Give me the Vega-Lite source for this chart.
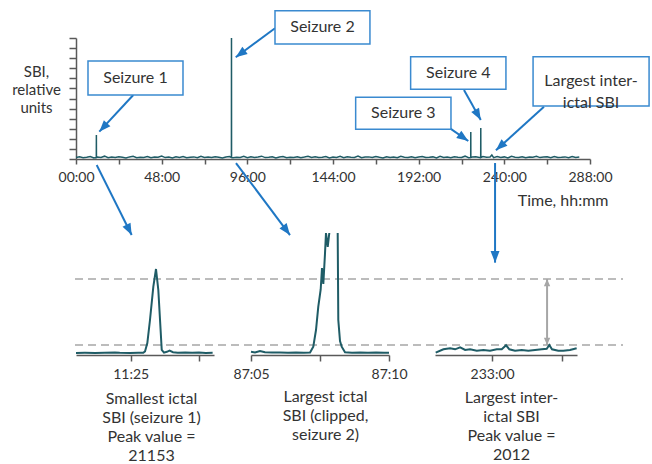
{
  "$schema": "https://vega.github.io/schema/vega-lite/v6.json",
  "width": 652,
  "height": 464,
  "padding": 0,
  "autosize": {"type": "none"},
  "background": "white",
  "config": {
    "view": {"stroke": null},
    "font": "Lato",
    "axis": {"grid": false, "domainColor": "#595959", "domainWidth": 1.5, "tickColor": "#595959", "tickWidth": 1.5, "labelColor": "#333333", "labelFont": "Lato", "labelFontSize": 14, "titleFont": "Lato", "titleFontSize": 16, "titleFontWeight": "normal", "titleColor": "#333333", "labelFlush": false, "labelOverlap": false},
    "text": {"font": "Lato", "fontSize": 16, "fill": "#333333"}
  },
  "datasets": {
    "callout_arrows": [
      {"x1": 32.1, "y1": 6.35, "x2": 13.06, "y2": 2.71},
      {"x1": 111.5, "y1": 12.96, "x2": 89.5, "y2": 10.09},
      {"x1": 209.6, "y1": 3.04, "x2": 219.8, "y2": 1.79},
      {"x1": 217.4, "y1": 6.84, "x2": 226.8, "y2": 3.87},
      {"x1": 262.2, "y1": 5.19, "x2": 235.3, "y2": 0.86},
      {"x1": 11.6, "y1": -0.6, "x2": 31.2, "y2": -7.54},
      {"x1": 89.65, "y1": -0.4, "x2": 119.9, "y2": -7.54},
      {"x1": 234.8, "y1": -0.4, "x2": 234.8, "y2": -10.28}
    ],
    "boxes": [
      {"label": "Seizure 1", "x1": 6.72, "x2": 59.95, "y1": 6.35, "y2": 9.72},
      {"label": "Seizure 2", "x1": 111.5, "x2": 164.7, "y1": 11.4, "y2": 14.71},
      {"label": "Seizure 3", "x1": 156.7, "x2": 210.1, "y1": 2.95, "y2": 6.12},
      {"label": "Seizure 4", "x1": 187.5, "x2": 240.9, "y1": 6.91, "y2": 10.15},
      {"label": "Largest inter-\nictal SBI", "x1": 256.1, "x2": 321.1, "y1": 5.26, "y2": 10.15}
    ],
    "gap": [{"lo": 2012, "hi": 18633}]
  },
  "layer": [
    {
      "data": {"values": [{"level": 2012}, {"level": 18633}]},
      "mark": {"type": "rule", "stroke": "#a6a6a6", "strokeWidth": 1.5, "strokeDash": [8, 5]},
      "encoding": {
        "x": {"datum": -0.56, "type": "quantitative", "scale": {"domain": [0, 288], "range": [76, 590], "nice": false, "zero": false}, "axis": null},
        "x2": {"datum": 306.5},
        "y": {"field": "level", "type": "quantitative", "scale": {"domain": [-504, 30216], "range": [355, 233], "nice": false, "zero": false}, "axis": null}
      }
    },
    {
      "data": {"name": "gap"},
      "mark": {"type": "rule", "stroke": "#a6a6a6", "strokeWidth": 2},
      "encoding": {
        "x": {"datum": 13980.79, "type": "quantitative", "scale": {"domain": [13979.18, 13981.22], "range": [435, 577], "nice": false, "zero": false}, "axis": null},
        "y": {"field": "lo", "type": "quantitative", "scale": {"domain": [-504, 30216], "range": [355, 233], "nice": false, "zero": false}, "axis": null},
        "y2": {"field": "hi"}
      }
    },
    {
      "data": {"name": "gap"},
      "mark": {"type": "point", "shape": "M0,0L-0.9,2.1L0.9,2.1Z", "filled": true, "fill": "#a6a6a6", "opacity": 1, "size": 49, "strokeWidth": 0, "angle": 0},
      "encoding": {
        "x": {"datum": 13980.79, "type": "quantitative", "scale": {"domain": [13979.18, 13981.22], "range": [435, 577], "nice": false, "zero": false}, "axis": null},
        "y": {"field": "hi", "type": "quantitative", "scale": {"domain": [-504, 30216], "range": [355, 233], "nice": false, "zero": false}, "axis": null}
      }
    },
    {
      "data": {"name": "gap"},
      "mark": {"type": "point", "shape": "M0,0L-0.9,2.1L0.9,2.1Z", "filled": true, "fill": "#a6a6a6", "opacity": 1, "size": 49, "strokeWidth": 0, "angle": 180},
      "encoding": {
        "x": {"datum": 13980.79, "type": "quantitative", "scale": {"domain": [13979.18, 13981.22], "range": [435, 577], "nice": false, "zero": false}, "axis": null},
        "y": {"field": "lo", "type": "quantitative", "scale": {"domain": [-504, 30216], "range": [355, 233], "nice": false, "zero": false}, "axis": null}
      }
    },
    {
      "data": {"values": [
        {"min": 684.2, "sbi": 20}, {"min": 684.33, "sbi": 40}, {"min": 684.48, "sbi": 10}, {"min": 684.62, "sbi": 50},
        {"min": 684.77, "sbi": 150}, {"min": 684.84, "sbi": 60}, {"min": 684.99, "sbi": 30}, {"min": 685.11, "sbi": 60},
        {"min": 685.185, "sbi": 80}, {"min": 685.21, "sbi": 400}, {"min": 685.244, "sbi": 2520}, {"min": 685.283, "sbi": 8310},
        {"min": 685.332, "sbi": 16700}, {"min": 685.371, "sbi": 21153}, {"min": 685.405, "sbi": 15860}, {"min": 685.43, "sbi": 8310},
        {"min": 685.455, "sbi": 760}, {"min": 685.488, "sbi": 80}, {"min": 685.53, "sbi": 300}, {"min": 685.57, "sbi": 580},
        {"min": 685.62, "sbi": 200}, {"min": 685.69, "sbi": 50}, {"min": 685.8, "sbi": 100}, {"min": 685.9, "sbi": 40},
        {"min": 686.0, "sbi": 120}, {"min": 686.1, "sbi": 30}, {"min": 686.2, "sbi": 60}
      ]},
      "mark": {"type": "line", "stroke": "#1f5c66", "strokeWidth": 2},
      "encoding": {
        "x": {"field": "min", "type": "quantitative", "scale": {"domain": [684.2, 686.22], "range": [76, 214], "nice": false, "zero": false},
          "axis": {"orient": "bottom", "offset": -109, "values": [685, 686], "labelExpr": "datum.value == 685 ? '11:25' : ''", "tickSize": 6, "labelPadding": 6,
            "title": ["Smallest ictal", "SBI (seizure 1)", "Peak value =", "21153"], "titleX": 151, "titleY": 35, "titleAlign": "center", "titleBaseline": "top", "titleLineHeight": 19}},
        "y": {"field": "sbi", "type": "quantitative", "scale": {"domain": [-504, 30216], "range": [355, 233], "nice": false, "zero": false}, "axis": null}
      }
    },
    {
      "data": {"values": [
        {"min": 5225.0, "sbi": 330, "seg": "a"}, {"min": 5225.145, "sbi": 150, "seg": "a"}, {"min": 5225.326, "sbi": 500, "seg": "a"},
        {"min": 5225.507, "sbi": 200, "seg": "a"}, {"min": 5225.76, "sbi": 100, "seg": "a"}, {"min": 5226.05, "sbi": 150, "seg": "a"},
        {"min": 5226.34, "sbi": 50, "seg": "a"}, {"min": 5226.63, "sbi": 100, "seg": "a"}, {"min": 5226.92, "sbi": 60, "seg": "a"},
        {"min": 5227.14, "sbi": 100, "seg": "a"}, {"min": 5227.257, "sbi": 1586, "seg": "a"}, {"min": 5227.355, "sbi": 5791, "seg": "a"},
        {"min": 5227.438, "sbi": 11658, "seg": "a"}, {"min": 5227.525, "sbi": 16000, "seg": "a"}, {"min": 5227.572, "sbi": 21400, "seg": "a"},
        {"min": 5227.62, "sbi": 17400, "seg": "a"}, {"min": 5227.68, "sbi": 24900, "seg": "a"}, {"min": 5227.717, "sbi": 30216, "seg": "a"},
        {"min": 5227.78, "sbi": 26700, "seg": "a"}, {"min": 5227.837, "sbi": 30216, "seg": "a"},
        {"min": 5228.141, "sbi": 30216, "seg": "b"}, {"min": 5228.163, "sbi": 8310, "seg": "b"}, {"min": 5228.225, "sbi": 3000, "seg": "b"},
        {"min": 5228.286, "sbi": 1586, "seg": "b"}, {"min": 5228.406, "sbi": 180, "seg": "b"}, {"min": 5228.66, "sbi": 80, "seg": "b"},
        {"min": 5228.95, "sbi": 120, "seg": "b"}, {"min": 5229.24, "sbi": 50, "seg": "b"}, {"min": 5229.53, "sbi": 100, "seg": "b"},
        {"min": 5229.82, "sbi": 40, "seg": "b"}, {"min": 5230.0, "sbi": 80, "seg": "b"}
      ]},
      "mark": {"type": "line", "stroke": "#1f5c66", "strokeWidth": 2},
      "encoding": {
        "x": {"field": "min", "type": "quantitative", "scale": {"domain": [5225, 5230], "range": [251, 389], "nice": false, "zero": false},
          "axis": {"orient": "bottom", "offset": -109, "values": [5225, 5227.5, 5230], "labelExpr": "datum.value == 5225 ? '87:05' : datum.value == 5230 ? '87:10' : ''", "tickSize": 6, "labelPadding": 6,
            "title": ["Largest ictal", "SBI (clipped,", "seizure 2)"], "titleX": 325, "titleY": 33, "titleAlign": "center", "titleBaseline": "top", "titleLineHeight": 19}},
        "y": {"field": "sbi", "type": "quantitative", "scale": {"domain": [-504, 30216], "range": [355, 233], "nice": false, "zero": false, "clamp": true}, "axis": null},
        "detail": {"field": "seg"}
      }
    },
    {
      "data": {"values": [
        {"min": 13979.19, "sbi": 76}, {"min": 13979.301, "sbi": 930}, {"min": 13979.397, "sbi": 1180}, {"min": 13979.469, "sbi": 930},
        {"min": 13979.541, "sbi": 1435}, {"min": 13979.613, "sbi": 755}, {"min": 13979.684, "sbi": 930}, {"min": 13979.78, "sbi": 580},
        {"min": 13979.875, "sbi": 755}, {"min": 13979.971, "sbi": 580}, {"min": 13980.067, "sbi": 930}, {"min": 13980.139, "sbi": 930},
        {"min": 13980.201, "sbi": 1950}, {"min": 13980.248, "sbi": 930}, {"min": 13980.33, "sbi": 580}, {"min": 13980.426, "sbi": 755},
        {"min": 13980.521, "sbi": 580}, {"min": 13980.617, "sbi": 755}, {"min": 13980.713, "sbi": 930}, {"min": 13980.785, "sbi": 1080},
        {"min": 13980.822, "sbi": 2012}, {"min": 13980.861, "sbi": 930}, {"min": 13980.951, "sbi": 580}, {"min": 13981.023, "sbi": 580},
        {"min": 13981.119, "sbi": 755}, {"min": 13981.215, "sbi": 1180}
      ]},
      "mark": {"type": "line", "stroke": "#1f5c66", "strokeWidth": 2},
      "encoding": {
        "x": {"field": "min", "type": "quantitative", "scale": {"domain": [13979.18, 13981.22], "range": [435, 577], "nice": false, "zero": false},
          "axis": {"orient": "bottom", "offset": -109, "values": [13980, 13981], "labelExpr": "datum.value == 13980 ? '233:00' : ''", "tickSize": 6, "labelPadding": 6,
            "title": ["Largest inter-", "ictal SBI", "Peak value =", "2012"], "titleX": 511, "titleY": 34, "titleAlign": "center", "titleBaseline": "top", "titleLineHeight": 19}},
        "y": {"field": "sbi", "type": "quantitative", "scale": {"domain": [-504, 30216], "range": [355, 233], "nice": false, "zero": false}, "axis": null}
      }
    },
    {
      "data": {"values": [
        {"t": 0, "v": 0.15}, {"t": 2, "v": 0.22}, {"t": 4, "v": 0.12}, {"t": 6, "v": 0.18}, {"t": 8, "v": 0.25}, {"t": 10, "v": 0.1}, {"t": 12, "v": 0.2}, {"t": 14, "v": 0.16}, {"t": 16, "v": 0.28}, {"t": 18, "v": 0.12},
        {"t": 20, "v": 0.19}, {"t": 22, "v": 0.14}, {"t": 24, "v": 0.23}, {"t": 26, "v": 0.17}, {"t": 28, "v": 0.11}, {"t": 30, "v": 0.21}, {"t": 32, "v": 0.26}, {"t": 34, "v": 0.13}, {"t": 36, "v": 0.18}, {"t": 38, "v": 0.15},
        {"t": 40, "v": 0.24}, {"t": 42, "v": 0.12}, {"t": 44, "v": 0.2}, {"t": 46, "v": 0.17}, {"t": 48, "v": 0.29}, {"t": 50, "v": 0.14}, {"t": 52, "v": 0.19}, {"t": 54, "v": 0.11}, {"t": 56, "v": 0.22}, {"t": 58, "v": 0.16},
        {"t": 60, "v": 0.25}, {"t": 62, "v": 0.13}, {"t": 64, "v": 0.18}, {"t": 66, "v": 0.21}, {"t": 68, "v": 0.12}, {"t": 70, "v": 0.27}, {"t": 72, "v": 0.15}, {"t": 74, "v": 0.19}, {"t": 76, "v": 0.14}, {"t": 78, "v": 0.23},
        {"t": 80, "v": 0.17}, {"t": 82, "v": 0.1}, {"t": 84, "v": 0.2}, {"t": 86, "v": 0.24}, {"t": 88, "v": 0.13}, {"t": 90, "v": 0.18}, {"t": 92, "v": 0.16}, {"t": 94, "v": 0.26}, {"t": 96, "v": 0.12}, {"t": 98, "v": 0.21},
        {"t": 100, "v": 0.15}, {"t": 102, "v": 0.19}, {"t": 104, "v": 0.28}, {"t": 106, "v": 0.14}, {"t": 108, "v": 0.17}, {"t": 110, "v": 0.22}, {"t": 112, "v": 0.11}, {"t": 114, "v": 0.2}, {"t": 116, "v": 0.25}, {"t": 118, "v": 0.13},
        {"t": 120, "v": 0.18}, {"t": 122, "v": 0.16}, {"t": 124, "v": 0.23}, {"t": 126, "v": 0.12}, {"t": 128, "v": 0.19}, {"t": 130, "v": 0.27}, {"t": 132, "v": 0.15}, {"t": 134, "v": 0.21}, {"t": 136, "v": 0.14}, {"t": 138, "v": 0.17},
        {"t": 140, "v": 0.24}, {"t": 142, "v": 0.11}, {"t": 144, "v": 0.2}, {"t": 146, "v": 0.16}, {"t": 148, "v": 0.26}, {"t": 150, "v": 0.13}, {"t": 152, "v": 0.22}, {"t": 154, "v": 0.18}, {"t": 156, "v": 0.15}, {"t": 158, "v": 0.29},
        {"t": 160, "v": 0.12}, {"t": 162, "v": 0.19}, {"t": 164, "v": 0.21}, {"t": 166, "v": 0.14}, {"t": 168, "v": 0.25}, {"t": 170, "v": 0.17}, {"t": 172, "v": 0.11}, {"t": 174, "v": 0.23}, {"t": 176, "v": 0.16}, {"t": 178, "v": 0.2},
        {"t": 180, "v": 0.13}, {"t": 182, "v": 0.27}, {"t": 184, "v": 0.18}, {"t": 186, "v": 0.15}, {"t": 188, "v": 0.22}, {"t": 190, "v": 0.12}, {"t": 192, "v": 0.19}, {"t": 194, "v": 0.24}, {"t": 196, "v": 0.14}, {"t": 198, "v": 0.17},
        {"t": 200, "v": 0.21}, {"t": 202, "v": 0.11}, {"t": 204, "v": 0.26}, {"t": 206, "v": 0.16}, {"t": 208, "v": 0.2}, {"t": 210, "v": 0.13}, {"t": 212, "v": 0.23}, {"t": 214, "v": 0.18}, {"t": 216, "v": 0.15}, {"t": 218, "v": 0.28},
        {"t": 220, "v": 0.12}, {"t": 222, "v": 0.19}, {"t": 224, "v": 0.22}, {"t": 226, "v": 0.14}, {"t": 228, "v": 0.25}, {"t": 230, "v": 0.17}, {"t": 232, "v": 0.2}, {"t": 234, "v": 0.13}, {"t": 236, "v": 0.24}, {"t": 238, "v": 0.16},
        {"t": 240, "v": 0.21}, {"t": 242, "v": 0.11}, {"t": 244, "v": 0.27}, {"t": 246, "v": 0.18}, {"t": 248, "v": 0.15}, {"t": 250, "v": 0.23}, {"t": 252, "v": 0.12}, {"t": 254, "v": 0.2}, {"t": 256, "v": 0.17}, {"t": 258, "v": 0.26},
        {"t": 260, "v": 0.14}, {"t": 262, "v": 0.19}, {"t": 264, "v": 0.22}, {"t": 266, "v": 0.13}, {"t": 268, "v": 0.25}, {"t": 270, "v": 0.16}, {"t": 272, "v": 0.18}, {"t": 274, "v": 0.21}, {"t": 276, "v": 0.12}, {"t": 278, "v": 0.24},
        {"t": 280, "v": 0.15}, {"t": 282, "v": 0.2},
        {"t": 11.38, "v": 0.15}, {"t": 11.42, "v": 2.38}, {"t": 11.46, "v": 0.15},
        {"t": 87.08, "v": 0.15}, {"t": 87.12, "v": 12}, {"t": 87.16, "v": 0.15},
        {"t": 221.16, "v": 0.15}, {"t": 221.2, "v": 2.68}, {"t": 221.24, "v": 0.15},
        {"t": 226.76, "v": 0.15}, {"t": 226.8, "v": 3.07}, {"t": 226.84, "v": 0.15},
        {"t": 233, "v": 0.4}
      ]},
      "mark": {"type": "line", "stroke": "#1f5c66", "strokeWidth": 1.5},
      "encoding": {
        "x": {"field": "t", "type": "quantitative", "scale": {"domain": [0, 288], "range": [76, 590], "nice": false, "zero": false},
          "axis": {"orient": "bottom", "offset": -305, "values": [0, 24, 48, 72, 96, 120, 144, 168, 192, 216, 240, 264, 288],
            "labelExpr": "datum.value % 48 == 0 ? (datum.value < 10 ? '0' : '') + datum.value + ':00' : ''", "tickSize": 5, "labelPadding": 6,
            "title": "Time, hh:mm", "titleX": 608, "titleY": 33, "titleAlign": "right", "titleBaseline": "top"}},
        "y": {"field": "v", "type": "quantitative", "scale": {"domain": [0, 12], "range": [159, 38], "nice": false, "zero": false},
          "axis": {"orient": "left", "offset": -76, "values": [0, 1, 2, 3, 4, 5, 6, 7, 8, 9, 10, 11, 12], "labels": false, "tickSize": 7,
            "title": ["SBI,", "relative", "units"], "titleFontSize": 15, "titleAngle": 0, "titleX": -40, "titleY": 64, "titleAlign": "center", "titleBaseline": "top", "titleLineHeight": 18}}
      }
    },
    {
      "data": {"name": "callout_arrows"},
      "mark": {"type": "rule", "stroke": "#1f77c4", "strokeWidth": 2},
      "encoding": {
        "x": {"field": "x1", "type": "quantitative", "scale": {"domain": [0, 288], "range": [76, 590], "nice": false, "zero": false}, "axis": null},
        "x2": {"field": "x2"},
        "y": {"field": "y1", "type": "quantitative", "scale": {"domain": [0, 12], "range": [159, 38], "nice": false, "zero": false}, "axis": null},
        "y2": {"field": "y2"}
      }
    },
    {
      "data": {"name": "callout_arrows"},
      "transform": [{"calculate": "atan2((datum.x2 - datum.x1) * 1.7847, (datum.y2 - datum.y1) * 10.083) * 180 / PI", "as": "ang"}],
      "mark": {"type": "point", "shape": "M0,0L-0.85,2.2L0.85,2.2Z", "filled": true, "fill": "#1f77c4", "opacity": 1, "size": 110, "strokeWidth": 0},
      "encoding": {
        "x": {"field": "x2", "type": "quantitative", "scale": {"domain": [0, 288], "range": [76, 590], "nice": false, "zero": false}, "axis": null},
        "y": {"field": "y2", "type": "quantitative", "scale": {"domain": [0, 12], "range": [159, 38], "nice": false, "zero": false}, "axis": null},
        "angle": {"field": "ang", "type": "quantitative", "scale": null}
      }
    },
    {
      "data": {"name": "boxes"},
      "mark": {"type": "rect", "fill": "white", "stroke": "#3a8ad0", "strokeWidth": 1.5},
      "encoding": {
        "x": {"field": "x1", "type": "quantitative", "scale": {"domain": [0, 288], "range": [76, 590], "nice": false, "zero": false}, "axis": null},
        "x2": {"field": "x2"},
        "y": {"field": "y1", "type": "quantitative", "scale": {"domain": [0, 12], "range": [159, 38], "nice": false, "zero": false}, "axis": null},
        "y2": {"field": "y2"}
      }
    },
    {
      "data": {"name": "boxes"},
      "transform": [
        {"calculate": "(datum.x1 + datum.x2) / 2", "as": "cx"},
        {"calculate": "(datum.y1 + datum.y2) / 2", "as": "cy"}
      ],
      "mark": {"type": "text", "align": "center", "baseline": "middle", "fontSize": 16, "lineBreak": "\n", "lineHeight": 22, "fill": "#333333"},
      "encoding": {
        "x": {"field": "cx", "type": "quantitative", "scale": {"domain": [0, 288], "range": [76, 590], "nice": false, "zero": false}, "axis": null},
        "y": {"field": "cy", "type": "quantitative", "scale": {"domain": [0, 12], "range": [159, 38], "nice": false, "zero": false}, "axis": null},
        "text": {"field": "label"}
      }
    }
  ],
  "resolve": {"scale": {"x": "independent", "y": "independent"}}
}
